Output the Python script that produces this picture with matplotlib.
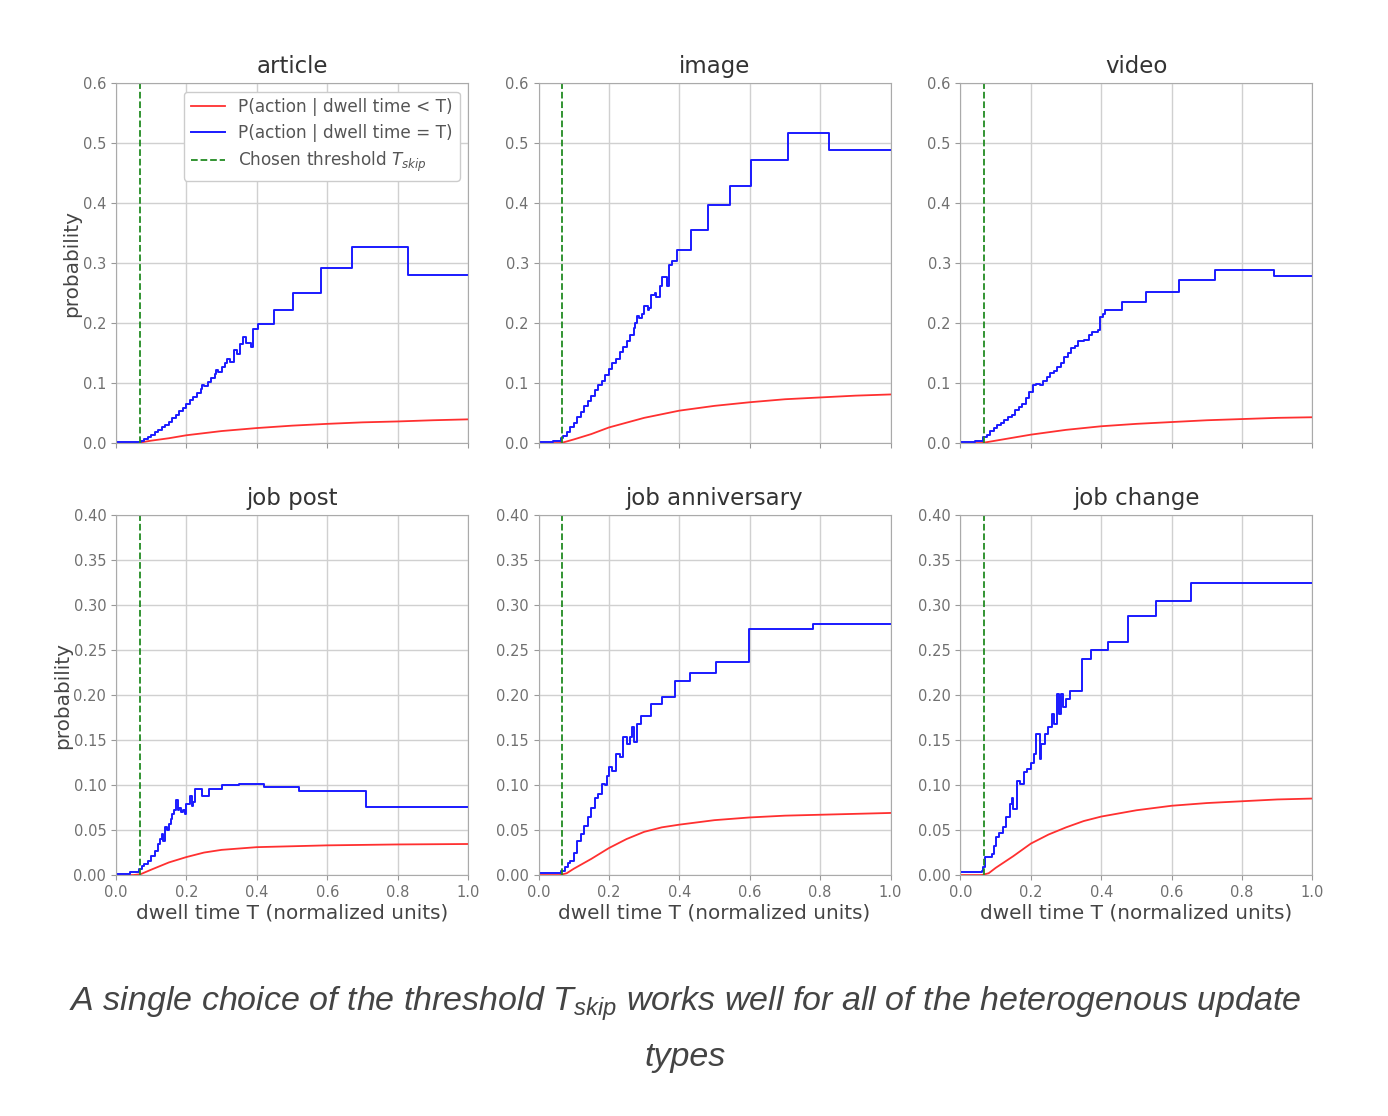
import matplotlib
matplotlib.use('Agg')
import matplotlib.pyplot as plt

# thresholds / axis settings
T_SKIP = 0.068
titles = ['article', 'image', 'video', 'job post', 'job anniversary', 'job change']

# blue: P(action | dwell time = T), step breakpoints
article_bx = [0, 0.057, 0.07, 0.08, 0.09, 0.10, 0.11, 0.12, 0.13, 0.14, 0.15, 0.16, 0.17, 0.18, 0.19,
              0.20, 0.21, 0.22, 0.23, 0.24, 0.245, 0.25, 0.26, 0.27, 0.28, 0.285, 0.29, 0.30, 0.31,
              0.315, 0.325, 0.335, 0.345, 0.351, 0.36, 0.37, 0.384, 0.389, 0.403, 0.45, 0.502, 0.581,
              0.67, 0.829, 1.0]
article_by = [0.001, 0.002, 0.004, 0.007, 0.010, 0.014, 0.018, 0.022, 0.026, 0.030, 0.035, 0.041, 0.047,
              0.053, 0.059, 0.065, 0.071, 0.077, 0.083, 0.090, 0.097, 0.095, 0.102, 0.108, 0.115, 0.121,
              0.119, 0.127, 0.133, 0.140, 0.135, 0.155, 0.148, 0.165, 0.177, 0.166, 0.160, 0.19, 0.199,
              0.221, 0.25, 0.291, 0.326, 0.28, 0.28]

image_bx = [0, 0.04, 0.065, 0.07, 0.08, 0.09, 0.10, 0.11, 0.12, 0.13, 0.14, 0.15, 0.16, 0.17, 0.18,
            0.19, 0.20, 0.21, 0.22, 0.23, 0.24, 0.25, 0.26, 0.27, 0.275, 0.28, 0.285, 0.295, 0.30, 0.31,
            0.315, 0.32, 0.33, 0.335, 0.345, 0.35, 0.36, 0.365, 0.37, 0.38, 0.392, 0.434, 0.482, 0.544,
            0.604, 0.71, 0.824, 1.0]
image_by = [0.002, 0.004, 0.008, 0.011, 0.018, 0.026, 0.034, 0.043, 0.052, 0.061, 0.070, 0.079, 0.088,
            0.096, 0.104, 0.114, 0.123, 0.134, 0.140, 0.152, 0.160, 0.170, 0.180, 0.192, 0.200, 0.212,
            0.208, 0.215, 0.228, 0.222, 0.225, 0.247, 0.250, 0.243, 0.262, 0.276, 0.276, 0.262, 0.297,
            0.303, 0.322, 0.355, 0.397, 0.429, 0.472, 0.516, 0.489, 0.489]

video_bx = [0, 0.04, 0.065, 0.075, 0.085, 0.095, 0.105, 0.115, 0.125, 0.135, 0.145, 0.155, 0.165, 0.175,
            0.185, 0.195, 0.205, 0.215, 0.225, 0.235, 0.245, 0.255, 0.265, 0.275, 0.285, 0.295, 0.305,
            0.315, 0.325, 0.335, 0.35, 0.365, 0.375, 0.39, 0.395, 0.405, 0.41, 0.46, 0.527, 0.62, 0.724,
            0.89, 1.0]
video_by = [0.001, 0.004, 0.010, 0.014, 0.020, 0.025, 0.030, 0.034, 0.039, 0.043, 0.047, 0.055, 0.060,
            0.065, 0.075, 0.085, 0.097, 0.099, 0.096, 0.104, 0.110, 0.116, 0.120, 0.127, 0.133, 0.143,
            0.150, 0.158, 0.162, 0.170, 0.171, 0.180, 0.185, 0.188, 0.210, 0.215, 0.222, 0.235, 0.251,
            0.272, 0.288, 0.279, 0.279]

jobpost_bx = [0, 0.04, 0.065, 0.075, 0.08, 0.09, 0.10, 0.11, 0.12, 0.125, 0.13, 0.133, 0.14, 0.145, 0.15,
              0.155, 0.16, 0.165, 0.17, 0.175, 0.18, 0.185, 0.19, 0.195, 0.2, 0.21, 0.215, 0.22, 0.225,
              0.245, 0.265, 0.3, 0.35, 0.42, 0.52, 0.71, 1.0]
jobpost_by = [0.001, 0.003, 0.007, 0.010, 0.012, 0.016, 0.021, 0.027, 0.035, 0.040, 0.046, 0.038, 0.053,
              0.050, 0.057, 0.062, 0.068, 0.072, 0.083, 0.072, 0.075, 0.070, 0.072, 0.068, 0.079, 0.088,
              0.077, 0.081, 0.096, 0.088, 0.096, 0.100, 0.101, 0.098, 0.093, 0.076, 0.076]

jobann_bx = [0, 0.065, 0.075, 0.085, 0.09, 0.10, 0.11, 0.12, 0.13, 0.14, 0.15, 0.16, 0.17, 0.18, 0.19,
             0.195, 0.2, 0.21, 0.22, 0.23, 0.24, 0.25, 0.26, 0.265, 0.27, 0.28, 0.29, 0.32, 0.35, 0.387,
             0.43, 0.505, 0.597, 0.78, 1.0]
jobann_by = [0.002, 0.004, 0.009, 0.013, 0.016, 0.025, 0.038, 0.046, 0.054, 0.064, 0.075, 0.086, 0.090,
             0.101, 0.100, 0.110, 0.120, 0.116, 0.135, 0.131, 0.153, 0.146, 0.153, 0.164, 0.148, 0.168,
             0.177, 0.190, 0.198, 0.216, 0.224, 0.237, 0.273, 0.279, 0.279]

jobchg_bx = [0, 0.06, 0.065, 0.07, 0.09, 0.095, 0.1, 0.11, 0.12, 0.13, 0.14, 0.145, 0.15, 0.16, 0.17, 0.18,
             0.19, 0.2, 0.21, 0.215, 0.225, 0.23, 0.24, 0.25, 0.26, 0.265, 0.275, 0.28, 0.285, 0.29, 0.3,
             0.31, 0.345, 0.37, 0.42, 0.475, 0.555, 0.655, 1.0]
jobchg_by = [0.003, 0.004, 0.009, 0.020, 0.023, 0.032, 0.042, 0.047, 0.053, 0.065, 0.079, 0.086, 0.073,
             0.105, 0.101, 0.114, 0.118, 0.124, 0.135, 0.157, 0.129, 0.146, 0.157, 0.164, 0.179, 0.168,
             0.201, 0.179, 0.201, 0.187, 0.196, 0.204, 0.240, 0.250, 0.259, 0.288, 0.305, 0.325, 0.325]

# red: P(action | dwell time < T)
article_rx = [0, 0.05, 0.07, 0.1, 0.15, 0.2, 0.3, 0.4, 0.5, 0.6, 0.7, 0.8, 0.9, 1.0]
article_ry = [0, 0, 0.001, 0.004, 0.008, 0.013, 0.020, 0.025, 0.029, 0.032, 0.0345, 0.036, 0.038, 0.0395]

image_rx = [0, 0.06, 0.07, 0.1, 0.15, 0.2, 0.3, 0.4, 0.5, 0.6, 0.7, 0.8, 0.9, 1.0]
image_ry = [0, 0, 0.001, 0.006, 0.015, 0.026, 0.042, 0.054, 0.062, 0.068, 0.073, 0.076, 0.079, 0.081]

video_rx = [0, 0.06, 0.07, 0.1, 0.15, 0.2, 0.3, 0.4, 0.5, 0.6, 0.7, 0.8, 0.9, 1.0]
video_ry = [0, 0, 0.001, 0.004, 0.009, 0.014, 0.022, 0.028, 0.032, 0.035, 0.038, 0.040, 0.042, 0.043]

jobpost_rx = [0, 0.05, 0.07, 0.1, 0.15, 0.2, 0.25, 0.3, 0.4, 0.5, 0.6, 0.8, 1.0]
jobpost_ry = [0, 0, 0.001, 0.006, 0.014, 0.020, 0.025, 0.028, 0.031, 0.032, 0.033, 0.034, 0.0345]

jobann_rx = [0, 0.06, 0.08, 0.1, 0.15, 0.2, 0.25, 0.3, 0.35, 0.4, 0.5, 0.6, 0.7, 0.8, 0.9, 1.0]
jobann_ry = [0, 0, 0.002, 0.007, 0.018, 0.030, 0.040, 0.048, 0.053, 0.056, 0.061, 0.064, 0.066, 0.067,
             0.068, 0.069]

jobchg_rx = [0, 0.06, 0.08, 0.1, 0.15, 0.2, 0.25, 0.3, 0.35, 0.4, 0.5, 0.6, 0.7, 0.8, 0.9, 1.0]
jobchg_ry = [0, 0, 0.002, 0.008, 0.021, 0.035, 0.045, 0.053, 0.060, 0.065, 0.072, 0.077, 0.080, 0.082,
             0.084, 0.085]

blue = [(article_bx, article_by), (image_bx, image_by), (video_bx, video_by),
        (jobpost_bx, jobpost_by), (jobann_bx, jobann_by), (jobchg_bx, jobchg_by)]
red = [(article_rx, article_ry), (image_rx, image_ry), (video_rx, video_ry),
       (jobpost_rx, jobpost_ry), (jobann_rx, jobann_ry), (jobchg_rx, jobchg_ry)]

plt.rcParams['font.family'] = 'DejaVu Sans'
plt.rcParams['mathtext.fontset'] = 'dejavusans'
plt.rcParams['mathtext.it'] = 'Liberation Sans:italic'
plt.rcParams['mathtext.rm'] = 'Liberation Sans'

fig = plt.figure(figsize=(13.88, 11.16), dpi=100)

lefts = [0.0836, 0.388, 0.692]
bottoms = [0.603, 0.2159]
w, h = 0.2536, 0.3226

for i in range(6):
    r, c = divmod(i, 3)
    ax = fig.add_axes([lefts[c], bottoms[r], w, h])
    ax.plot(red[i][0], red[i][1], color='#ff3030', linewidth=1.3, label='P(action | dwell time < T)')
    ax.plot(blue[i][0], blue[i][1], color='#1a1aff', linewidth=1.4, drawstyle='steps-post',
            label='P(action | dwell time = T)')
    ax.axvline(T_SKIP, color='#228b22', linestyle='--', linewidth=1.3,
               label='Chosen threshold $T_{skip}$')
    ax.set_xlim(0, 1)
    ax.set_xticks([0, 0.2, 0.4, 0.6, 0.8, 1.0])
    if r == 0:
        ax.set_ylim(0, 0.6)
        ax.set_yticks([0, 0.1, 0.2, 0.3, 0.4, 0.5, 0.6])
        ax.tick_params(labelbottom=False)
    else:
        ax.set_ylim(0, 0.4)
        ax.set_yticks([0, 0.05, 0.1, 0.15, 0.2, 0.25, 0.3, 0.35, 0.4])
        ax.set_xlabel('dwell time T (normalized units)', fontsize=14.4, color='#444444', labelpad=3)
    if c == 0:
        ax.set_ylabel('probability', fontsize=14.4, color='#444444', labelpad=1)
    ax.set_title(titles[i], fontsize=16.5, color='#333333', pad=7)
    ax.grid(True, color='#d0d0d0', linewidth=1)
    ax.set_axisbelow(True)
    for s in ax.spines.values():
        s.set_color('#aaaaaa')
    ax.tick_params(colors='#999999', labelcolor='#707070', labelsize=10.5, length=3.5)
    if i == 0:
        leg = ax.legend(loc='upper right', fontsize=12.2, framealpha=1, edgecolor='#cccccc',
                        borderpad=0.4, labelspacing=0.45, handlelength=2.0)
        for t in leg.get_texts():
            t.set_color('#555555')

fig.text(0.4935, 0.101,
         'A single choice of the threshold $T_{skip}$ works well for all of the heterogenous update',
         ha='center', va='center', fontsize=24.5, style='italic', family='Liberation Sans',
         color='#444444', math_fontfamily='custom')
fig.text(0.4935, 0.052, 'types', ha='center', va='center', fontsize=24.5, style='italic',
         family='Liberation Sans', color='#444444')

plt.savefig('out.png', dpi=100)
plt.close()
